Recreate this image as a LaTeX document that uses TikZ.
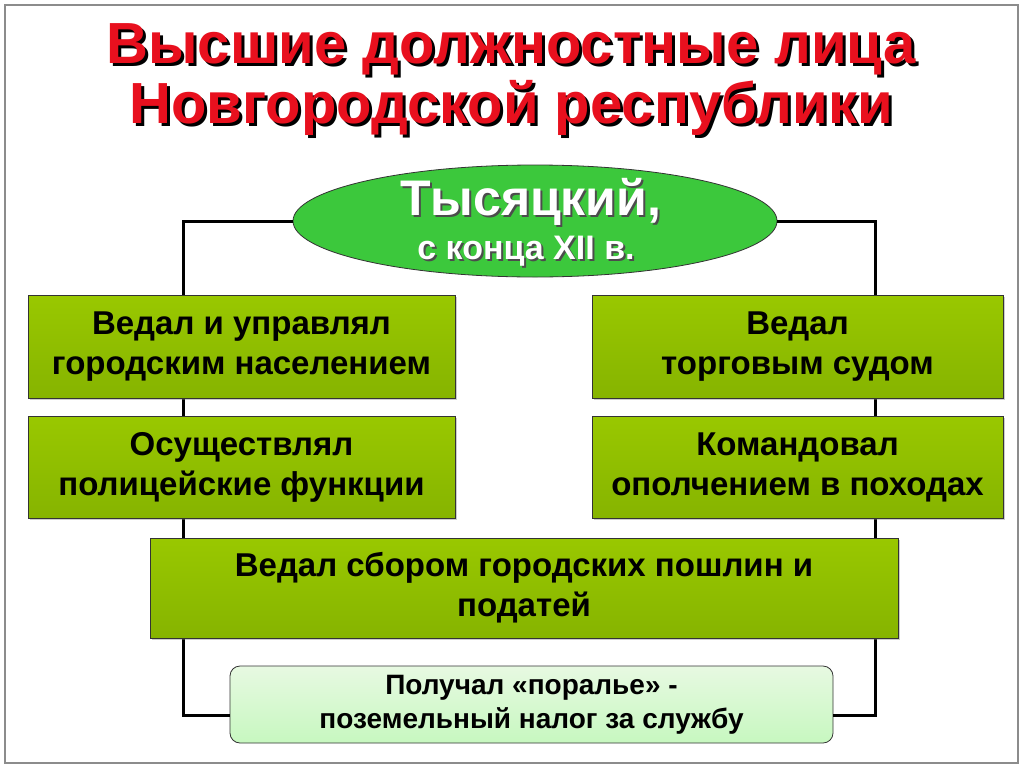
\documentclass[tikz,border=0pt]{standalone}
\usepackage{fontspec}
\setmainfont{Liberation Sans}
\usetikzlibrary{shadows,shapes.geometric}
\definecolor{boxg}{HTML}{99C800}
\definecolor{boxgd}{HTML}{86B400}
\definecolor{ellg}{HTML}{3CC83C}
\definecolor{lightg}{HTML}{DDF7D5}
\definecolor{titred}{HTML}{E8101E}
\tikzset{
  gbox/.style={draw=black!80, line width=0.8pt, top color=boxg, bottom color=boxgd, align=center,
    font=\bfseries\fontsize{33}{40}\selectfont, inner sep=0pt, drop shadow={shadow xshift=2pt,shadow yshift=-2pt,opacity=0.4}},
  conn/.style={line width=3pt, draw=black},
  title/.style={font=\bfseries\fontsize{58}{58}\selectfont, text=titred}
}
\begin{document}
\begin{tikzpicture}[x=1pt,y=-1pt]
\useasboundingbox (0,0) rectangle (1024,768);
\fill[white] (0,0) rectangle (1024,768);
\draw[black!45, line width=1.2pt] (5,5) rectangle (1018,763);
% title with shadow
\node[title, text=black] at (514,52) {Высшие должностные лица};
\node[title] (t1) at (511,49) {Высшие должностные лица};
\node[title, text=black] at (514,111) {Новгородской республики};
\node[title] (t2) at (511,108) {Новгородской республики};
% ellipse
\node[ellipse, draw=black!80, line width=0.8pt, fill=ellg, minimum width=484pt, minimum height=112pt] (ell) at (535,221) {};
\node[font=\bfseries\fontsize{50}{50}\selectfont, text=black!70] at (533,204) {Тысяцкий,};
\node[font=\bfseries\fontsize{50}{50}\selectfont, text=white] (e1) at (531,202) {Тысяцкий,};
\node[font=\bfseries\fontsize{34}{34}\selectfont, text=black!70] at (528,253) {с конца XII в.};
\node[font=\bfseries\fontsize{34}{34}\selectfont, text=white] (e2) at (526,251) {с конца XII в.};
% corners
\coordinate (lc1) at (183,221);
\coordinate (lc2) at (183,715);
\coordinate (rc1) at (875,221);
\coordinate (rc2) at (875,715);
\node[draw=black!80, rounded corners=10pt, line width=0.8pt, top color=lightg!70!white, bottom color=lightg!90!green, minimum width=603pt, minimum height=77pt, align=center, font=\bfseries\fontsize{28}{34}\selectfont, inner sep=0pt] (f) at (531.5,704.5) {Получал «поралье» -\\поземельный налог за службу};
\draw[conn] (ell.west) -- (lc1) -- (lc2) -- (f.west |- lc2);
\draw[conn] (ell.east) -- (rc1) -- (rc2) -- (f.east |- rc2);
\node[gbox, minimum width=427pt, minimum height=103pt] (a) at (241.5,346.5) {Ведал и управлял\\городским населением};
\node[gbox, minimum width=411pt, minimum height=103pt] (b) at (797.5,346.5) {Ведал\\торговым судом};
\node[gbox, minimum width=427pt, minimum height=102pt] (c) at (241.5,467) {Осуществлял\\полицейские функции};
\node[gbox, minimum width=411pt, minimum height=102pt] (d) at (797.5,467) {Командовал\\ополчением в походах};
\node[gbox, minimum width=748pt, minimum height=100pt] (e) at (524,588) {Ведал сбором городских пошлин и\\податей};
\end{tikzpicture}
\end{document}
